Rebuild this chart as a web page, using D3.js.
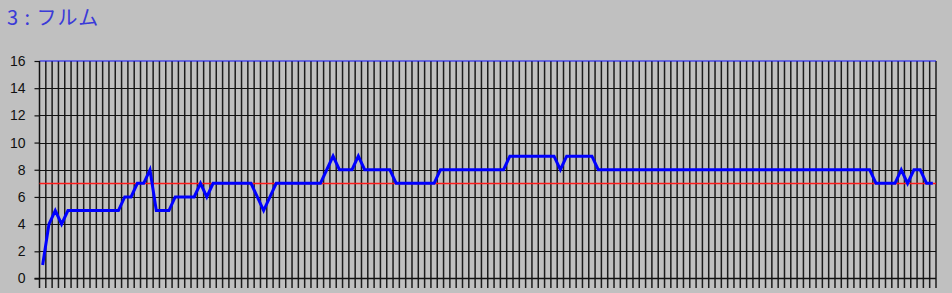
<!DOCTYPE html>
<html>
<head>
<meta charset="utf-8">
<script src="https://cdn.jsdelivr.net/npm/d3@7"></script>
<style>
  html, body { margin: 0; padding: 0; background: #c0c0c0; }
  svg { display: block; }
</style>
</head>
<body>
<svg id="chart" width="952" height="293"></svg>
<script>
// chart values, one per sample
const titleText = "3 : フルム";
const values = [
  1,4,5,4,5,5,5,5,5,5,5,5,5,6,6,7,7,8,5,5,
  5,6,6,6,6,7,6,7,7,7,7,7,7,7,6,5,6,7,7,7,
  7,7,7,7,7,8,9,8,8,8,9,8,8,8,8,8,7,7,7,7,
  7,7,7,8,8,8,8,8,8,8,8,8,8,8,9,9,9,9,9,9,
  9,9,8,9,9,9,9,9,8,8,8,8,8,8,8,8,8,8,8,8,
  8,8,8,8,8,8,8,8,8,8,8,8,8,8,8,8,8,8,8,8,
  8,8,8,8,8,8,8,8,8,8,8,8,7,7,7,7,8,7,8,8,
  7,7
];
const yTicks = [0, 2, 4, 6, 8, 10, 12, 14, 16];
const yMax = 16;
const referenceLevel = 7;

const svg = d3.select("#chart");

const plotLeft = 39.5, plotRight = 936, plotTop = 61, plotBottom = 278.5;

const x = d3.scaleBand()
    .domain(d3.range(values.length))
    .range([plotLeft, plotRight]);

const y = d3.scaleLinear()
    .domain([0, yMax])
    .range([plotBottom, plotTop]);

// Title
svg.append("text")
    .attr("x", 7)
    .attr("y", 25)
    .attr("xml:space", "preserve")
    .style("white-space", "pre")
    .attr("letter-spacing", 1)
    .attr("font-family", "'Noto Sans CJK JP', 'Noto Sans', sans-serif")
    .attr("font-size", 20)
    .attr("fill", "#3a3ad8")
    .text(titleText);

// vertical grid lines at band edges (they run a bit below the axis)
const edges = d3.range(1, values.length + 1);
svg.append("g")
    .selectAll("line")
    .data(edges)
    .enter()
    .append("line")
    .attr("x1", d => d < values.length ? x(d) : plotRight)
    .attr("x2", d => d < values.length ? x(d) : plotRight)
    .attr("y1", y(yMax))
    .attr("y2", y(0) + 9.5)
    .attr("stroke", "#1c1c1c")
    .attr("stroke-width", 1.5);

// horizontal grid
svg.append("g")
    .selectAll("line")
    .data(yTicks.filter(d => d > 0 && d < yMax))
    .enter()
    .append("line")
    .attr("x1", plotLeft)
    .attr("x2", plotRight)
    .attr("y1", d => Math.round(y(d)) + 0.5)
    .attr("y2", d => Math.round(y(d)) + 0.5)
    .attr("stroke", "#111")
    .attr("stroke-width", 1.2);

// top edge is blue
svg.append("line")
    .attr("x1", plotLeft)
    .attr("x2", plotRight)
    .attr("y1", y(yMax))
    .attr("y2", y(yMax))
    .attr("stroke", "#1010ff")
    .attr("stroke-width", 1.2);

// y axis
const yAxis = svg.append("g")
    .attr("transform", `translate(${plotLeft},0)`)
    .call(d3.axisLeft(y).tickValues(yTicks).tickSize(5).tickPadding(9));
yAxis.select(".domain")
    .attr("stroke", "#111")
    .attr("stroke-width", 1.5)
    .attr("d", `M0,${y(yMax)}V${y(0) + 9.5}`);
yAxis.selectAll(".tick line").attr("stroke", "#111").attr("stroke-width", 1.2);
yAxis.selectAll(".tick text")
    .attr("font-family", "'Liberation Sans', Arial, sans-serif")
    .attr("font-size", 14)
    .attr("fill", "#111");

// x baseline
svg.append("line")
    .attr("x1", plotLeft - 5)
    .attr("x2", plotRight)
    .attr("y1", y(0))
    .attr("y2", y(0))
    .attr("stroke", "#111")
    .attr("stroke-width", 1.5);

// reference level (red)
svg.append("line")
    .attr("x1", plotLeft)
    .attr("x2", plotRight)
    .attr("y1", Math.round(y(referenceLevel)) + 0.5)
    .attr("y2", Math.round(y(referenceLevel)) + 0.5)
    .attr("stroke", "#ff1a1a")
    .attr("stroke-width", 1.3);

// data line
const line = d3.line()
    .x((d, i) => x(i) + x.bandwidth() / 2)
    .y(d => y(d));

svg.append("path")
    .datum(values)
    .attr("fill", "none")
    .attr("stroke", "#0000ff")
    .attr("stroke-width", 3)
    .attr("stroke-linejoin", "miter")
    .attr("d", line);
</script>
</body>
</html>
